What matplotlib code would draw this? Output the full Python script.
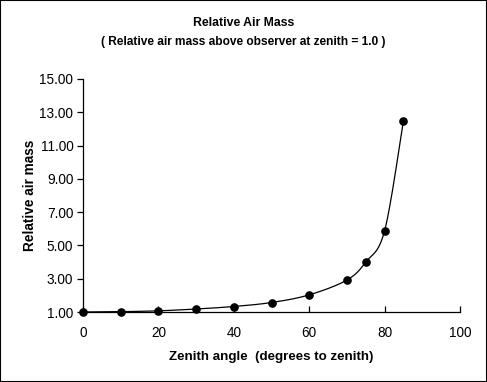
import numpy as np
import matplotlib
matplotlib.use('Agg')
import matplotlib.pyplot as plt
from matplotlib.patches import Rectangle

plt.rcParams['font.family'] = ['Liberation Sans', 'DejaVu Sans']

zenith = [0, 10, 20, 30, 40, 50, 60, 70, 75, 80, 85]
air_mass = [1.00, 1.02, 1.07, 1.18, 1.33, 1.57, 2.03, 2.92, 4.00, 5.88, 12.5]
y_ticks = [1, 3, 5, 7, 9, 11, 13, 15]
x_ticks = [0, 20, 40, 60, 80, 100]


def smooth(xs, ys, n=30):
    # excel-like smoothed line (catmull-rom)
    xs = np.asarray(xs, float)
    ys = np.asarray(ys, float)
    P = np.column_stack([xs, ys])
    P = np.vstack([P[0], P, P[-1]])
    out = []
    for i in range(1, len(P) - 2):
        p0, p1, p2, p3 = P[i - 1], P[i], P[i + 1], P[i + 2]
        c1 = p1 + (p2 - p0) / 6
        c2 = p2 - (p3 - p1) / 6
        t = np.linspace(0, 1, n)[:, None]
        b = ((1 - t) ** 3) * p1 + 3 * ((1 - t) ** 2) * t * c1 + 3 * (1 - t) * t ** 2 * c2 + t ** 3 * p2
        out.append(b)
    out = np.vstack(out)
    return out[:, 0], out[:, 1]


fig = plt.figure(figsize=(4.87, 3.82), dpi=100)
ax = fig.add_axes([83 / 487, 1 - 312 / 382, 377 / 487, 233 / 382])

sx, sy = smooth(zenith, air_mass)
ax.plot(sx, sy, color='black', lw=0.9, clip_on=False)
ax.plot(zenith, air_mass, 'o', color='black', ms=5.2, clip_on=False, zorder=5)

ax.set_xlim(0, 100)
ax.set_ylim(1, 15)
ax.set_xticks(x_ticks)
ax.set_yticks(y_ticks)
ax.set_yticklabels([f'{v:.2f}' for v in y_ticks])
ax.spines['top'].set_visible(False)
ax.spines['right'].set_visible(False)
ax.spines['left'].set_linewidth(0.9)
ax.spines['bottom'].set_linewidth(0.9)
ax.tick_params(axis='y', direction='out', length=4, width=0.9, labelsize=9.8, pad=3)
ax.tick_params(axis='x', direction='in', length=4, width=0.9, labelsize=9.8, pad=10)

ax.set_xlabel('Zenith angle  (degrees to zenith)', fontsize=9.6, fontweight='bold', labelpad=8)
ax.set_ylabel('Relative air mass', fontsize=9.8, fontweight='bold', labelpad=2)

fig.text(0.5, 1 - 23 / 382, 'Relative Air Mass', ha='center', va='center', fontsize=8.8, fontweight='bold')
fig.text(0.5, 1 - 42 / 382, '( Relative air mass above observer at zenith = 1.0 )',
         ha='center', va='center', fontsize=8.6, fontweight='bold')

fig.patches.append(Rectangle((0, 0), 1, 1, transform=fig.transFigure, fill=False,
                             edgecolor='black', lw=1.5))

fig.savefig('out.png', dpi=100)
